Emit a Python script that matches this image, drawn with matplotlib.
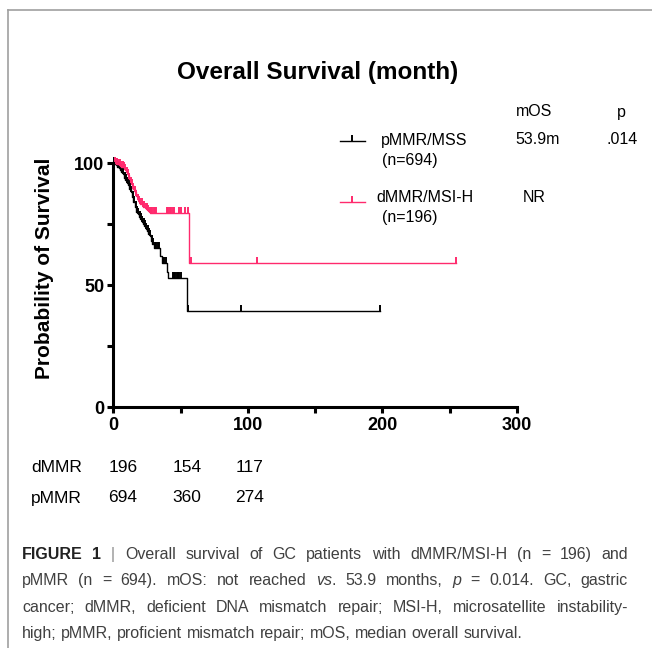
import numpy as np
import matplotlib
matplotlib.use("Agg")
import matplotlib.pyplot as plt
from matplotlib.lines import Line2D

plt.rcParams['font.family'] = ['Liberation Sans', 'DejaVu Sans']

# Kaplan-Meier steps (months, % surviving)
pmmr_t = [0, 1, 2, 3, 4, 5, 6, 7, 8, 9, 10, 11, 12, 13, 14, 15, 16, 17, 18, 19,
          20, 21, 22, 23, 24, 25, 26, 27, 28, 29, 30, 35, 36, 40, 41, 54.5]
pmmr_s = [100, 99.5, 99, 98.5, 98, 97, 96.5, 95.5, 94, 93, 92, 91, 89.5, 88, 86, 84,
          82, 80, 79, 78, 77, 76, 75, 74, 73, 72, 71, 70, 68, 67, 65, 62, 59, 55.5, 53, 39.3]
pmmr_cens = [0.5, 1.5, 2.5, 3.5, 4.5, 5.5, 6.5, 7.5, 8.5, 9.5, 10.5, 11.5, 12.5, 13.5,
             14.5, 15.5, 16.5, 17.5, 18.5, 19.5, 20.5, 21.5, 22.5, 23.5, 24.5, 25.5,
             26.5, 27.5, 28.5, 29.5, 31, 32, 33, 34, 37, 38, 39, 44, 45, 46, 47, 48,
             49, 50, 55.5, 95, 198]

dmmr_t = [0, 2, 4, 6, 8, 9, 10, 11, 12, 13, 14, 15, 16, 17, 18, 19, 20, 22, 24, 26, 27, 56.2]
dmmr_s = [100, 99.5, 99, 98.5, 98, 97, 96, 95, 93.5, 92, 91, 89.5, 88, 86.5, 85, 84,
          83, 82, 81, 80.5, 79.6, 58.9]
dmmr_cens = [1, 2, 3, 4, 5, 6, 7, 8, 9, 10, 11, 12, 13, 14, 15, 16, 17, 18, 19, 20,
             21, 22, 23, 24, 25, 26, 27, 28, 29, 30, 31, 32, 40, 41, 42, 43, 44, 45,
             49, 50, 53, 55.5, 57.5, 107, 255]

risk_groups = ['dMMR', 'pMMR']
risk_values = [[196, 154, 117], [694, 360, 274]]

black = '#000000'
pink = '#ff2a6d'

W, H = 652, 648
fig = plt.figure(figsize=(W / 100, H / 100), dpi=100)


def fx(px):
    return px / W


def fy(py):
    return 1 - py / H


def surv_at(t_steps, s_steps, times):
    idx = np.searchsorted(t_steps, times, side='right') - 1
    return np.array(s_steps)[idx]


ax = fig.add_axes([fx(113.3), fy(407), fx(517) - fx(113.3), fy(163) - fy(407)])

for t, s, cens, col in [(pmmr_t, pmmr_s, pmmr_cens, black), (dmmr_t, dmmr_s, dmmr_cens, pink)]:
    tt = list(t) + [max(cens)]
    ss = list(s) + [s[-1]]
    ax.step(tt, ss, where='post', color=col, lw=1.0, clip_on=False)
    ax.plot(cens, surv_at(t, s, cens), linestyle='none', marker=2, markersize=4,
            markeredgewidth=1.4, color=col, clip_on=False)

ax.set_xlim(0, 300)
ax.set_ylim(0, 100)
ax.set_xticks([0, 100, 200, 300])
ax.set_xticks([50, 150, 250], minor=True)
ax.set_yticks([0, 50, 100])
ax.set_yticks([25, 75], minor=True)
for sp in ['top', 'right']:
    ax.spines[sp].set_visible(False)
for sp in ['left', 'bottom']:
    ax.spines[sp].set_linewidth(2.2)
ax.tick_params(which='both', length=4.5, width=2.2, direction='out')
ax.tick_params(axis='x', pad=2.5)
ax.tick_params(axis='y', pad=2)
for lab in ax.get_xticklabels() + ax.get_yticklabels():
    lab.set_fontweight('bold')
    lab.set_fontsize(13)

fig.text(fx(45), fy(268), 'Probability of Survival', rotation=90, fontsize=15,
         fontweight='bold', ha='center', va='center')
fig.text(fx(318), fy(79), 'Overall Survival (month)', fontsize=17.5, fontweight='bold',
         ha='center', va='baseline')

# legend block
fs_leg = 11.5
fig.text(fx(534), fy(112), 'mOS', fontsize=fs_leg, ha='center', va='center')
fig.text(fx(621), fy(112), 'p', fontsize=fs_leg, ha='center', va='center')
for y_line, y_txt, x_name, col, name, n, mos, x_mos in [
        (141, 140, 381, black, 'pMMR/MSS', '(n=694)', '53.9m', 515),
        (202, 197, 376, pink, 'dMMR/MSI-H', '(n=196)', 'NR', 523)]:
    fig.add_artist(Line2D([fx(340), fx(365)], [fy(y_line), fy(y_line)], color=col, lw=1.0))
    fig.add_artist(Line2D([fx(352)], [fy(y_line)], marker=2, markersize=4,
                          markeredgewidth=1.4, color=col, linestyle='none'))
    fig.text(fx(x_name), fy(y_txt), name, fontsize=fs_leg, ha='left', va='center')
    fig.text(fx(382), fy(y_txt + 21), n, fontsize=fs_leg, ha='left', va='center')
    fig.text(fx(x_mos), fy(y_txt), mos, fontsize=fs_leg, ha='left', va='center')
fig.text(fx(606), fy(140), '.014', fontsize=fs_leg, ha='left', va='center')

# number at risk
col_x = [123, 187, 250]
for i, (g, vals) in enumerate(zip(risk_groups, risk_values)):
    yy = 468 + i * 30
    fig.text(fx(31), fy(yy), g, fontsize=12.5, ha='left', va='center')
    for cx, v in zip(col_x, vals):
        fig.text(fx(cx), fy(yy), str(v), fontsize=12.5, ha='center', va='center')

# frame
fig.add_artist(Line2D([fx(8), 1], [fy(10), fy(10)], color='#a0a0a0', lw=1.2))
fig.add_artist(Line2D([fx(8), fx(8)], [fy(10), 0], color='#a0a0a0', lw=1.2))

# caption, justified like the journal layout
fs_cap = 11.5
cap_col = '#404040'
fig.canvas.draw()
renderer = fig.canvas.get_renderer()


def width_px(s, **kw):
    t = fig.text(0, 0, s, fontsize=fs_cap, **kw)
    w = t.get_window_extent(renderer).width
    t.remove()
    return w


space_w = width_px('a a') - width_px('aa')


def tokens(pieces):
    out = []
    pending = False
    for s, kw in pieces:
        parts = s.split(' ')
        for i, p in enumerate(parts):
            if i > 0:
                pending = True
            if p == '':
                continue
            out.append((p, kw, pending and len(out) > 0))
            pending = False
    return out


def run(x0, y_base, pieces, right=None):
    toks = tokens(pieces)
    widths = [width_px(p, **kw) for p, kw, _ in toks]
    ngaps = sum(1 for _, _, g in toks if g)
    gap = space_w
    if right is not None and ngaps:
        gap = (right - x0 - sum(widths)) / ngaps
    x = x0
    for (p, kw, g), w in zip(toks, widths):
        if g:
            x += gap
        fig.text(fx(x), fy(y_base), p, fontsize=fs_cap, va='baseline', ha='left', **kw)
        x += w


reg = dict(color=cap_col)
it = dict(color=cap_col, style='italic')
run(22, 559, [('FIGURE 1', dict(color='#222222', fontweight='bold')),
              (' | ', dict(color='#888888')),
              ('Overall survival of GC patients with dMMR/MSI-H (n = 196) and', reg)], right=628)
run(22, 585, [('pMMR (n = 694). mOS: not reached ', reg), ('vs', it),
              ('. 53.9 months, ', reg), ('p', it), (' = 0.014. GC, gastric', reg)], right=628)
run(22, 612, [('cancer; dMMR, deficient DNA mismatch repair; MSI-H, microsatellite instability-', reg)],
    right=628)
run(22, 638, [('high; pMMR, proficient mismatch repair; mOS, median overall survival.', reg)])

fig.savefig('out.png', dpi=100)
